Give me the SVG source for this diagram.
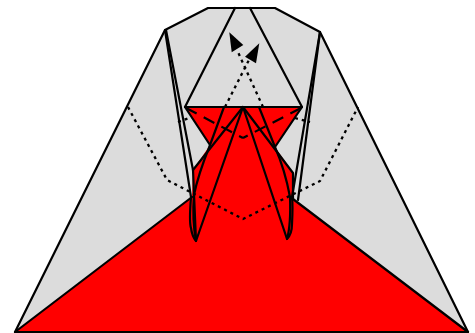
<svg xmlns="http://www.w3.org/2000/svg" width="475" height="333" viewBox="0 0 475 333">
<style>
.s{fill:none;stroke:#000;stroke-width:2.2;stroke-linejoin:round;stroke-linecap:round}
.t{fill:none;stroke:#000;stroke-width:2.3;stroke-dasharray:3 4;stroke-linecap:butt}
.d{fill:none;stroke:#000;stroke-width:2.2;stroke-dasharray:12 8;stroke-linecap:butt}
</style>
<g id="paper">
<path d="M15 332L165 30L208 8L275 8L320 32L468 332Z" fill="#dcdcdc"/>
<path d="M15 332L192 197L193 170L210 145L185 107L302 107L275 147L293 173L293 199L468 332Z" fill="#f00"/>
</g>
<g id="connectors">
<path class="t" d="M128 107L167 180L243 219L320 181L358 107"/>
<path class="t" d="M225 107L253 52"/>
<path class="t" d="M263 107L237 50"/>
<path class="t" d="M178 122L192 117"/>
<path class="t" d="M295 118L310 122"/>
<path class="d" d="M186 108L243 138"/>
<path class="d" d="M301 108L243 138"/>
<path class="s" d="M15 332L165 30L208 8L275 8L320 32L468 332L15 332"/>
<path class="s" d="M15 332L192 197M193 170L243 107L293 173L293 199"/>
<path class="s" d="M293 199L468 332"/>
<path class="s" d="M185 107L302 107"/>
<path class="s" d="M185 107L235 8"/>
<path class="s" d="M302 107L250 8"/>
<path class="s" d="M185 107L210 145"/>
<path class="s" d="M302 107L275 147"/>
<path class="s" d="M165 30L191 197Q189 222 191 228Q192 236 196 241L243 107L287 239Q292 234 292 224Q293 205 292 197L320 32"/>
<path class="s" d="M166 30L193 170L196 241"/>
<path class="s" d="M320 32L298 200"/>
<path class="s" d="M224 107L210 145Q198 175 194 195Q192 220 196 241"/>
<path class="s" d="M259 107L275 147Q285 170 290 197Q291 225 287 239"/>
<path d="M229.3 32.3L243.3 45L231.7 52.3Z" fill="#000"/>
<path d="M259.3 43.3L245 56.7L256 63.3Z" fill="#000"/>
</g>
</svg>
